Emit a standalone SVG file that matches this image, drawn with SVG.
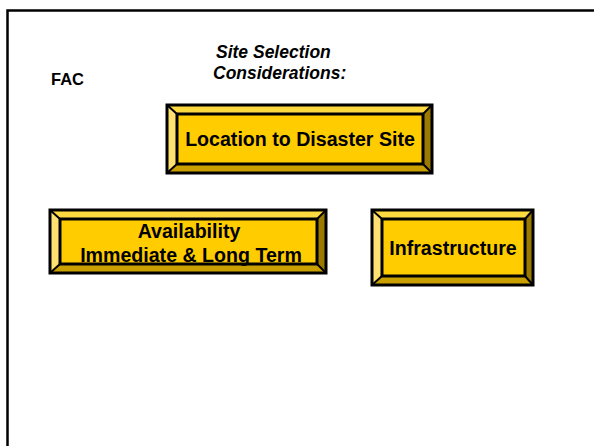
<svg xmlns="http://www.w3.org/2000/svg" width="594" height="446" viewBox="0 0 594 446">
<style>
.t{font-family:"Liberation Sans",Arial,sans-serif;font-weight:bold;fill:#000}
.bt{font-size:19.6px;text-anchor:middle}
.face{fill:#FFCC00;stroke:#000;stroke-width:3}
.top{fill:#FFD940}
.left{fill:#FFE070}
.right{fill:#9C7A00}
.bottom{fill:#C9A000}
.edge{fill:none;stroke:#000;stroke-width:3}
.diag{stroke:#000;stroke-width:2}
</style>
<rect x="0" y="0" width="594" height="446" fill="#fff"/>
<rect x="7.5" y="10.5" width="620" height="470" fill="none" stroke="#000" stroke-width="2.5"/>
<text class="t" x="51" y="85" font-size="16.5">FAC</text>
<text class="t" font-size="17.5" font-style="italic"><tspan x="216" y="58">Site Selection</tspan><tspan x="213" y="79">Considerations:</tspan></text>

<g id="location">
<polygon class="top" points="167,105 432,105 423,114 177,114"/>
<polygon class="left" points="167,105 177,114 177,164 167,173"/>
<polygon class="right" points="432,105 432,173 423,164 423,114"/>
<polygon class="bottom" points="167,173 177,164 423,164 432,173"/>
<rect class="face" x="177" y="114" width="246" height="50"/>
<line class="diag" x1="167" y1="105" x2="177" y2="114"/>
<line class="diag" x1="432" y1="105" x2="423" y2="114"/>
<line class="diag" x1="167" y1="173" x2="177" y2="164"/>
<line class="diag" x1="432" y1="173" x2="423" y2="164"/>
<rect class="edge" x="167" y="105" width="265" height="68"/>
<text class="t bt" x="300" y="146">Location to Disaster Site</text>
</g>

<g id="availability">
<polygon class="top" points="50,210 326,210 317,219 60,219"/>
<polygon class="left" points="50,210 60,219 60,264 50,273"/>
<polygon class="right" points="326,210 326,273 317,264 317,219"/>
<polygon class="bottom" points="50,273 60,264 317,264 326,273"/>
<rect class="face" x="60" y="219" width="257" height="45"/>
<line class="diag" x1="50" y1="210" x2="60" y2="219"/>
<line class="diag" x1="326" y1="210" x2="317" y2="219"/>
<line class="diag" x1="50" y1="273" x2="60" y2="264"/>
<line class="diag" x1="326" y1="273" x2="317" y2="264"/>
<rect class="edge" x="50" y="210" width="276" height="63"/>
<text class="t bt"><tspan x="189" y="238">Availability</tspan><tspan x="191" y="262">Immediate &amp; Long Term</tspan></text>
</g>

<g id="infrastructure">
<polygon class="top" points="372,210 533,210 525,219 382,219"/>
<polygon class="left" points="372,210 382,219 382,276 372,285"/>
<polygon class="right" points="533,210 533,285 525,276 525,219"/>
<polygon class="bottom" points="372,285 382,276 525,276 533,285"/>
<rect class="face" x="382" y="219" width="143" height="57"/>
<line class="diag" x1="372" y1="210" x2="382" y2="219"/>
<line class="diag" x1="533" y1="210" x2="525" y2="219"/>
<line class="diag" x1="372" y1="285" x2="382" y2="276"/>
<line class="diag" x1="533" y1="285" x2="525" y2="276"/>
<rect class="edge" x="372" y="210" width="161" height="75"/>
<text class="t bt" x="453" y="255">Infrastructure</text>
</g>
<g id="connectors"/>
</svg>
